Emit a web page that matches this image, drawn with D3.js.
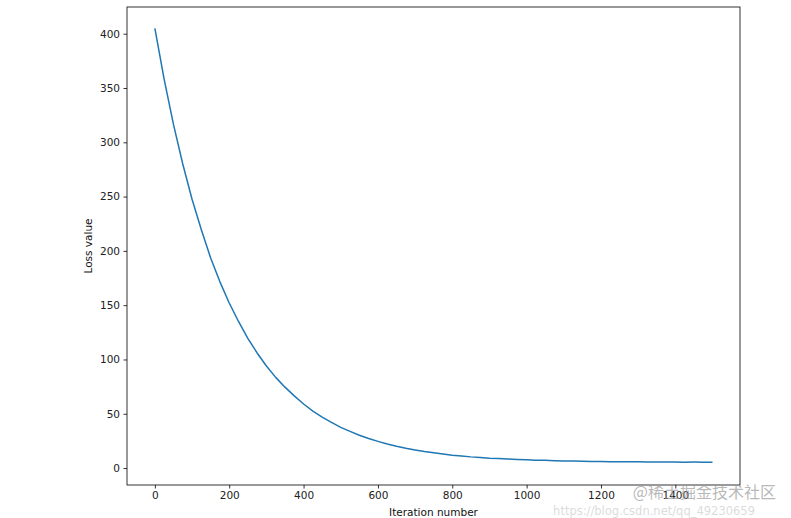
<!DOCTYPE html>
<html>
<head>
<meta charset="utf-8">
<script src="https://cdn.jsdelivr.net/npm/d3@7"></script>
<style>
  body { margin: 0; background: #fff; }
  text { font-family: "DejaVu Sans", sans-serif; }
</style>
</head>
<body>
<div id="chart"></div>
<script>
// loss, one value every 25 iterations
var iterations = d3.range(0, 1501, 25);
var lossValues = [
  405, 358, 316.5, 280, 247.5, 219.5, 193.5, 171.5, 152, 135,
  119.5, 106, 94, 83.5, 74.5, 66.5, 59, 52.5, 47, 42,
  37.5, 33.8, 30.2, 27.2, 24.6, 22.2, 20.1, 18.3, 16.7, 15.2,
  14.0, 12.9, 11.9, 11.1, 10.3, 9.7, 9.1, 8.7, 8.3, 7.9,
  7.6, 7.3, 7.1, 6.8, 6.6, 6.45, 6.3, 6.15, 6.0, 5.9,
  5.85, 5.75, 5.7, 5.65, 5.6, 5.5, 5.55, 5.45, 5.5, 5.4,
  5.45
];
var xTicks = [0, 200, 400, 600, 800, 1000, 1200, 1400];
var yTicks = [0, 50, 100, 150, 200, 250, 300, 350, 400];

var width = 791, height = 518;
var margin = {left: 127, top: 7, right: 51, bottom: 33};
var plotW = width - margin.left - margin.right,
    plotH = height - margin.top - margin.bottom;

var svg = d3.select("#chart")
  .append("svg")
    .attr("width", width)
    .attr("height", height);

var g = svg.append("g")
  .attr("transform", `translate(${margin.left}, ${margin.top})`);

// matplotlib-like 5% margins around the data
var x = d3.scaleLinear().domain([-75, 1574]).range([0, plotW]);
var y = d3.scaleLinear().domain([-15.6, 424.6]).range([plotH, 0]);

var data = iterations.map(function(d, i) { return [d, lossValues[i]]; });

var line = d3.line()
  .x(function(d) { return x(d[0]); })
  .y(function(d) { return y(d[1]); });

g.append("path")
  .datum(data)
  .attr("d", line)
  .attr("fill", "none")
  .attr("stroke", "#1f77b4")
  .attr("stroke-width", 1.5)
  .attr("stroke-linejoin", "round");

// axes
var xAxis = g.append("g")
  .attr("transform", `translate(0, ${plotH})`)
  .call(d3.axisBottom(x).tickValues(xTicks).tickFormat(d3.format("d"))
    .tickSize(3.5).tickPadding(3.5).tickSizeOuter(0));
var yAxis = g.append("g")
  .call(d3.axisLeft(y).tickValues(yTicks).tickFormat(d3.format("d"))
    .tickSize(3.5).tickPadding(3.5).tickSizeOuter(0));

[xAxis, yAxis].forEach(function(a) {
  a.select(".domain").remove();
  a.selectAll("line").attr("stroke", "#000").attr("stroke-width", 0.8);
  a.selectAll("text")
    .style("font-size", "10.5px")
    .attr("fill", "#222");
});

// frame
g.append("rect")
  .attr("width", plotW)
  .attr("height", plotH)
  .attr("fill", "none")
  .attr("stroke", "#000")
  .attr("stroke-width", 0.8);

// axis labels
svg.append("text")
  .attr("x", margin.left + plotW / 2)
  .attr("y", 516)
  .attr("text-anchor", "middle")
  .style("font-size", "10.5px")
  .attr("fill", "#111")
  .text("Iteration number");

svg.append("text")
  .attr("transform", `translate(92, ${margin.top + plotH / 2}) rotate(-90)`)
  .attr("text-anchor", "middle")
  .style("font-size", "10.5px")
  .attr("fill", "#111")
  .text("Loss value");

// watermarks (they sit over the last tick label in the original too)
svg.append("text")
  .attr("x", 776)
  .attr("y", 498)
  .attr("text-anchor", "end")
  .style("font-family", "'Noto Sans CJK SC', sans-serif")
  .style("font-size", "16px")
  .attr("fill", "#999")
  .attr("fill-opacity", 0.7)
  .text("@稀土掘金技术社区");

svg.append("text")
  .attr("x", 755)
  .attr("y", 515)
  .attr("text-anchor", "end")
  .style("font-size", "11.5px")
  .attr("fill", "#ccc")
  .attr("fill-opacity", 0.7)
  .text("https://blog.csdn.net/qq_49230659");
</script>
</body>
</html>
